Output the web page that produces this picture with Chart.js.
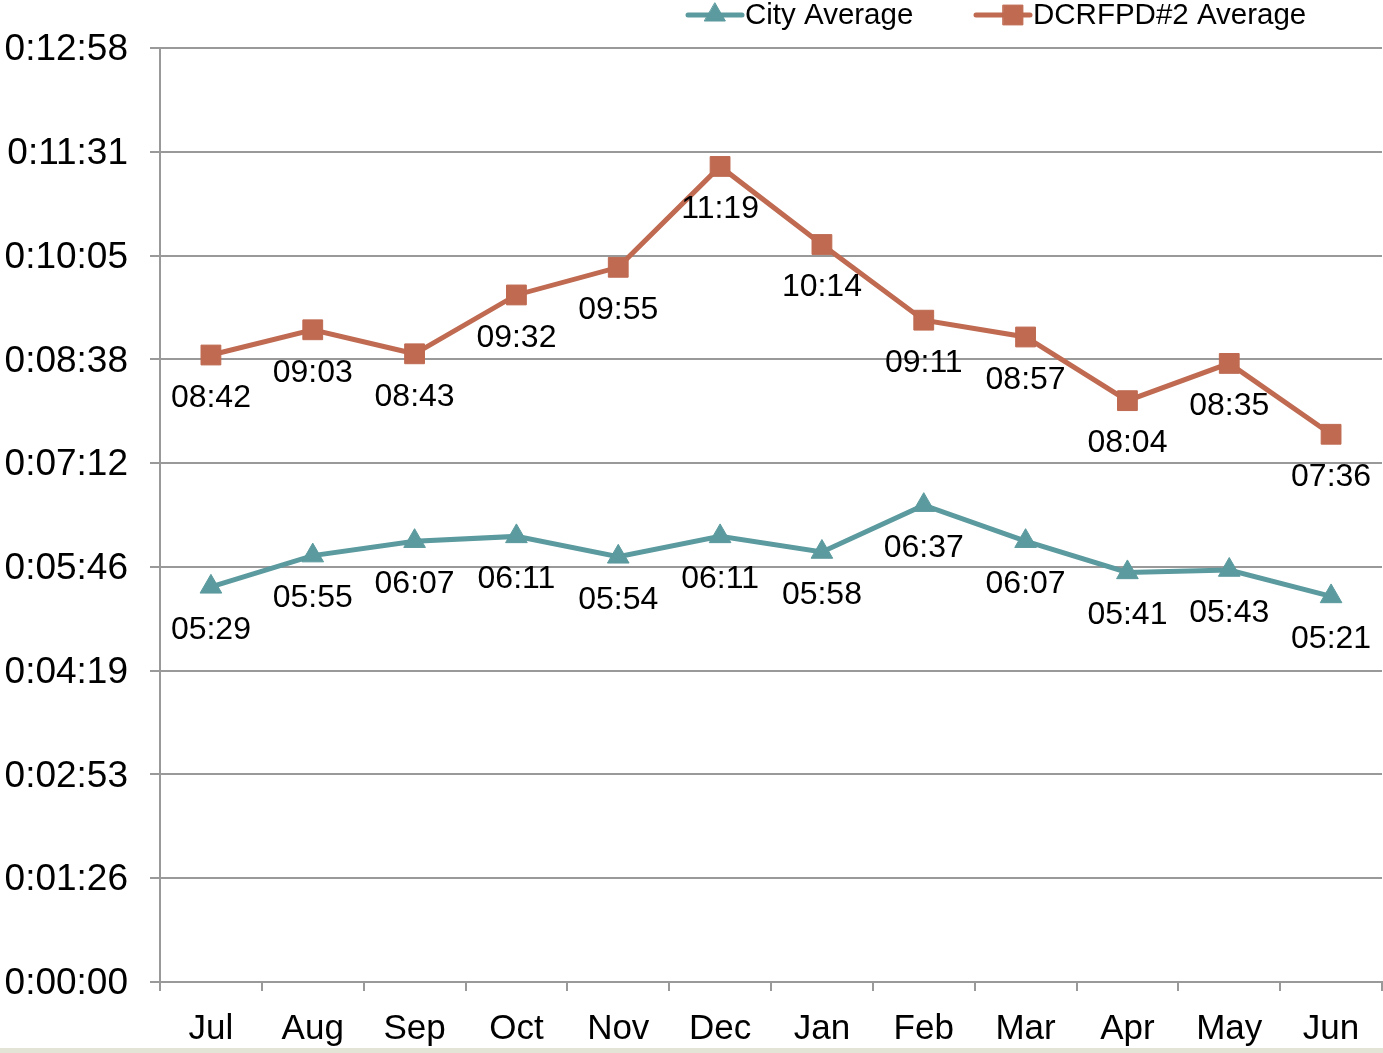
<!DOCTYPE html>
<html>
<head>
<meta charset="utf-8">
<script src="https://cdn.jsdelivr.net/npm/chart.js@4.4.1/dist/chart.umd.min.js"></script>
<style>
  html, body { margin: 0; padding: 0; background: #ffffff; overflow: hidden; }
  #wrap { position: relative; width: 1383px; height: 1053px; }
  #c { display: block; }
  #band { position: absolute; left: 0; top: 1048px; width: 1383px; height: 5px; background: #e4e4d6; }
</style>
</head>
<body>
<div id="wrap">
  <canvas id="c" width="1383" height="1053"></canvas>
  <div id="band"></div>
</div>
<script>
// ---- data ----
const months = ["Jul","Aug","Sep","Oct","Nov","Dec","Jan","Feb","Mar","Apr","May","Jun"];
const cityLabel = "City Average";
const dcrLabel = "DCRFPD#2 Average";
// values in mm:ss
const cityTimes = ["05:29","05:55","06:07","06:11","05:54","06:11","05:58","06:37","06:07","05:41","05:43","05:21"];
const dcrTimes  = ["08:42","09:03","08:43","09:32","09:55","11:19","10:14","09:11","08:57","08:04","08:35","07:36"];
// y axis ticks (seconds) and their labels
const yTickValues = [0, 86.4, 172.8, 259.2, 345.6, 432, 518.4, 604.8, 691.2, 777.6];
const yTickLabels = ["0:00:00","0:01:26","0:02:53","0:04:19","0:05:46","0:07:12","0:08:38","0:10:05","0:11:31","0:12:58"];

const toSec = s => { const [m, ss] = s.split(":").map(Number); return m * 60 + ss; };
const cityVals = cityTimes.map(toSec);
const dcrVals = dcrTimes.map(toSec);

const cityColor = "#5b9a9e";
const dcrColor = "#bf6a51";
const FONT = "'Liberation Sans', Arial, sans-serif";

const dataLabelPlugin = {
  id: "dataLabels",
  afterDatasetsDraw(chart) {
    const ctx = chart.ctx;
    ctx.save();
    ctx.font = "32px " + FONT;
    ctx.fillStyle = "#000";
    ctx.textAlign = "center";
    ctx.textBaseline = "middle";
    chart.data.datasets.forEach((ds, i) => {
      const meta = chart.getDatasetMeta(i);
      meta.data.forEach((pt, j) => {
        ctx.fillText(ds.labelsText[j], pt.x, pt.y + 43);
      });
    });
    ctx.restore();
  }
};

const legendPlugin = {
  id: "customLegend",
  afterDraw(chart) {
    const ctx = chart.ctx;
    ctx.save();
    const y = 15;
    const items = [
      { x: 688, color: cityColor, style: "triangle", text: cityLabel },
      { x: 976, color: dcrColor, style: "rect", text: dcrLabel }
    ];
    items.forEach(it => {
      ctx.strokeStyle = it.color;
      ctx.lineWidth = 5;
      ctx.lineCap = "round";
      ctx.beginPath();
      ctx.moveTo(it.x, y);
      ctx.lineTo(it.x + 54, y);
      ctx.stroke();
      ctx.fillStyle = it.color;
      ctx.strokeStyle = it.color;
      ctx.lineWidth = 1;
      const cx = it.x + 27 + (it.style === "rect" ? 10 : 0);
      if (it.style === "triangle") {
        Chart.helpers.drawPoint(ctx, { pointStyle: "triangle", radius: 12, borderWidth: 1, rotation: 0 }, cx, y);
      } else {
        Chart.helpers.drawPoint(ctx, { pointStyle: "rect", radius: 14, borderWidth: 1, rotation: 0 }, cx, y);
      }
      ctx.fillStyle = "#000";
      ctx.font = "29.5px " + FONT;
      ctx.textAlign = "left";
      ctx.textBaseline = "middle";
      ctx.fillText(it.text, it.x + 57, y + 1);
    });
    ctx.restore();
  }
};

new Chart(document.getElementById("c"), {
  type: "line",
  data: {
    labels: months,
    datasets: [
      {
        label: cityLabel,
        data: cityVals,
        labelsText: cityTimes,
        borderColor: cityColor,
        backgroundColor: cityColor,
        borderWidth: 5,
        pointStyle: "triangle",
        pointRadius: 12.5,
        pointBorderWidth: 1,
        pointBackgroundColor: cityColor,
        pointBorderColor: cityColor,
        tension: 0
      },
      {
        label: dcrLabel,
        data: dcrVals,
        labelsText: dcrTimes,
        borderColor: dcrColor,
        backgroundColor: dcrColor,
        borderWidth: 5,
        pointStyle: "rect",
        pointRadius: 14,
        pointBorderWidth: 1,
        pointBackgroundColor: dcrColor,
        pointBorderColor: dcrColor,
        tension: 0
      }
    ]
  },
  options: {
    responsive: false,
    animation: false,
    events: [],
    layout: { autoPadding: false, padding: { top: 48, right: 1, left: 0, bottom: 0 } },
    plugins: { legend: { display: false }, tooltip: { enabled: false } },
    scales: {
      x: {
        offset: true,
        grid: { display: true, offset: true, drawOnChartArea: false, drawTicks: true, tickLength: 9, color: "#999999", lineWidth: 2 },
        border: { display: true, color: "#999999", width: 2 },
        ticks: { font: { family: FONT, size: 35 }, color: "#000", padding: 17, maxRotation: 0, autoSkip: false },
        afterFit(scale) { scale.height = 71; scale.paddingLeft = 0; scale.paddingRight = 0; }
      },
      y: {
        min: 0,
        max: 777.6,
        afterBuildTicks(scale) { scale.ticks = yTickValues.map(v => ({ value: v })); },
        grid: { color: "#999999", lineWidth: 2, drawTicks: true, tickLength: 10 },
        border: { display: true, color: "#999999", width: 2 },
        ticks: {
          font: { family: FONT, size: 37 },
          color: "#000",
          padding: 22,
          labelOffset: 2,
          callback(value, index) { return yTickLabels[index]; }
        },
        afterFit(scale) { scale.width = 160; scale.paddingTop = 0; scale.paddingBottom = 0; }
      }
    }
  },
  plugins: [dataLabelPlugin, legendPlugin]
});
</script>
</body>
</html>
